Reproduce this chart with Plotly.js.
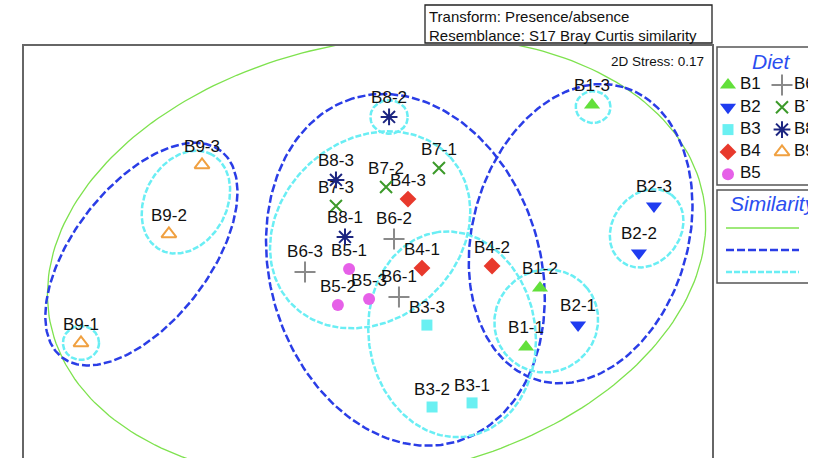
<!DOCTYPE html>
<html>
<head>
<meta charset="utf-8">
<script src="https://cdn.plot.ly/plotly-3.0.1.min.js"></script>
<style>
  html, body { margin: 0; padding: 0; background: #fff; overflow: hidden; }
  #chart { width: 808px; height: 470px; }
</style>
</head>
<body>
<div id="chart"></div>
<script>
// nMDS ordination of diet samples (presence/absence, Bray-Curtis similarity)
const sampleIds = ['B1-1','B1-2','B1-3','B2-1','B2-2','B2-3','B3-1','B3-2','B3-3',
                   'B4-1','B4-2','B4-3','B5-1','B5-2','B5-3','B6-1','B6-2','B6-3',
                   'B7-1','B7-2','B7-3','B8-1','B8-2','B8-3','B9-1','B9-2','B9-3'];
const mdsX = [0.735, 0.800, 1.042, 0.977, 1.260, 1.330, 0.484, 0.298, 0.274,
              0.251, 0.577, 0.186, -0.088, -0.140, 0.005, 0.144, 0.121, -0.293,
              0.330, 0.084, -0.149, -0.107, 0.098, -0.149, -1.335, -0.926, -0.772];
const mdsY = [-0.414, -0.140, 0.712, -0.312, 0.023, 0.242, -0.674, -0.693, -0.312,
              -0.047, -0.037, 0.274, -0.051, -0.219, -0.191, -0.181, 0.088, -0.065,
              0.419, 0.330, 0.242, 0.098, 0.656, 0.363, -0.395, 0.112, 0.433];
const dietGroups = ['B1','B2','B3','B4','B5','B6','B7','B8','B9'];

// cluster contours at three similarity levels
const ringLevel = ['outer','mid','mid','mid','inner','inner','inner','inner','inner','inner','inner','inner'];
const ringCx    = [0.040, -1.054, 0.174, 0.989, -0.847, -1.335, 0.098, 0.010, 0.391, 0.829, 1.296, 1.047];
const ringCy    = [-0.003, 0.018, -0.055, 0.113, 0.260, -0.395, 0.656, 0.131, -0.355, -0.293, 0.138, 0.702];
const ringA     = [1.547, 0.606, 0.834, 0.710, 0.252, 0.084, 0.087, 0.503, 0.480, 0.244, 0.194, 0.081];
const ringB     = [1.010, 0.317, 0.628, 0.501, 0.190, 0.079, 0.078, 0.417, 0.388, 0.237, 0.158, 0.074];
const ringAngle = [10.9, 52.4, 107.1, 73.8, 61.5, 0, 0, 42.5, 98.0, 38.2, 53.7, 0];

const dietStyle = {
  B1: {symbol: 'triangle-up',      color: '#62e03a', size: 14},
  B2: {symbol: 'triangle-down',    color: '#1f3cf0', size: 14},
  B3: {symbol: 'square',           color: '#6af0f2', size: 11},
  B4: {symbol: 'diamond',          color: '#e8392c', size: 13},
  B5: {symbol: 'circle',           color: '#e660e8', size: 12},
  B6: {symbol: 'cross-thin-open',  color: '#8a8a8a', size: 15, lw: 2},
  B7: {symbol: 'x-thin-open',      color: '#3c9a2a', size: 12, lw: 2},
  B8: {symbol: 'asterisk-open',    color: '#1c2580', size: 14, lw: 2},
  B9: {symbol: 'triangle-up-open', color: '#f0a040', size: 13, lw: 2}
};
const ringStyle = {
  outer: {color: '#7ee24e', width: 1.3, dash: 'solid'},
  mid:   {color: '#2a3de6', width: 2.5, dash: '8px,3px'},
  inner: {color: '#6aeef4', width: 2.5, dash: '6px,2px'}
};

// page geometry in pixels; paper spans the whole figure
const W = 808, H = 470, L = 24, R = 712, T = 46, KEY = 717;
const px = x => x / W;
const py = y => (H - y) / H;
const font = 'Liberation Sans, Arial, sans-serif';

const traces = [];
ringCx.forEach((cx, i) => {
  const th = ringAngle[i] * Math.PI / 180, xs = [], ys = [];
  for (let k = 0; k <= 240; k++) {
    const t = 2 * Math.PI * k / 240;
    const u = ringA[i] * Math.cos(t), v = ringB[i] * Math.sin(t);
    xs.push(cx + u * Math.cos(th) - v * Math.sin(th));
    ys.push(ringCy[i] + u * Math.sin(th) + v * Math.cos(th));
  }
  const st = ringStyle[ringLevel[i]];
  traces.push({x: xs, y: ys, mode: 'lines', hoverinfo: 'skip', showlegend: false,
               line: {color: st.color, width: st.width, dash: st.dash}});
});

dietGroups.forEach(g => {
  const idx = sampleIds.map((s, i) => s.startsWith(g + '-') ? i : -1).filter(i => i >= 0);
  const st = dietStyle[g];
  traces.push({
    name: g, showlegend: false,
    x: idx.map(i => mdsX[i]), y: idx.map(i => mdsY[i]), text: idx.map(i => sampleIds[i]),
    mode: 'markers+text', textposition: 'top center',
    textfont: {family: font, size: 17, color: '#111'},
    marker: {symbol: st.symbol, size: st.size, color: st.color, opacity: 1,
             line: {color: st.color, width: st.lw || 0}},
    hoverinfo: 'text'
  });
});

// diet key: two columns of symbols on their own pixel-scaled axes
const keyCol = i => (i < 5 ? 0 : 1), keyRow = i => (i < 5 ? i : i - 5);
const keyX = dietGroups.map((g, i) => 728 + 54 * keyCol(i));
const keyY = dietGroups.map((g, i) => 85 + 22.3 * keyRow(i));
traces.push({
  x: keyX, y: keyY, xaxis: 'x2', yaxis: 'y2', mode: 'markers', hoverinfo: 'skip', showlegend: false,
  marker: {symbol: dietGroups.map(g => dietStyle[g].symbol), size: dietGroups.map(g => dietStyle[g].size),
           color: dietGroups.map(g => dietStyle[g].color), opacity: 1,
           line: {color: dietGroups.map(g => dietStyle[g].color), width: dietGroups.map(g => dietStyle[g].lw || 0)}}
});
traces.push({
  x: keyX.map(x => x + 12), y: keyY, xaxis: 'x2', yaxis: 'y2', mode: 'text', text: dietGroups,
  textposition: 'middle right', hoverinfo: 'skip', showlegend: false,
  textfont: {family: font, size: 17, color: '#111'}
});

const frameBox = (x0, y0, x1, y1, color, w) => ({type: 'rect', xref: 'paper', yref: 'paper',
  x0: px(x0), x1: px(x1), y0: py(y1), y1: py(y0), line: {color: color, width: w}, fillcolor: 'rgba(0,0,0,0)'});
const keyLine = (y, st) => ({type: 'line', xref: 'paper', yref: 'paper', x0: px(726), x1: px(799),
  y0: py(y), y1: py(y), line: {color: st.color, width: st.width, dash: st.dash}});

const layout = {
  width: W, height: H,
  margin: {l: 0, r: 0, t: 0, b: 0, pad: 0, autoexpand: false},
  paper_bgcolor: '#fff', plot_bgcolor: '#fff',
  showlegend: false,
  xaxis: {domain: [L / W, R / W], range: [-1.6, 1.6], showgrid: false, zeroline: false,
          showticklabels: false, ticks: '', showline: true, mirror: true, linecolor: '#666',
          linewidth: 2, fixedrange: true},
  yaxis: {domain: [0, (H - T) / H], range: [(258 - H) / 215, (258 - T) / 215], showgrid: false,
          zeroline: false, showticklabels: false, ticks: '', showline: true, mirror: true,
          linecolor: '#666', linewidth: 2, fixedrange: true},
  xaxis2: {domain: [KEY / W, 1], range: [KEY, W], anchor: 'y2', visible: false, fixedrange: true},
  yaxis2: {domain: [0, 1], range: [H, 0], anchor: 'x2', visible: false, fixedrange: true},
  shapes: [
    frameBox(425, 5, 712, 43, '#222', 1.3),
    frameBox(717, 47, 830, 185, '#555', 1.5),
    frameBox(717, 190, 830, 283, '#555', 1.5),
    keyLine(228, ringStyle.outer),
    keyLine(250, ringStyle.mid),
    keyLine(272, ringStyle.inner)
  ],
  annotations: [
    {text: 'Transform: Presence/absence', x: px(427), y: py(16), xref: 'paper', yref: 'paper',
     xanchor: 'left', yanchor: 'middle', showarrow: false, font: {family: font, size: 15, color: '#111'}},
    {text: 'Resemblance: S17 Bray Curtis similarity', x: px(427), y: py(35), xref: 'paper', yref: 'paper',
     xanchor: 'left', yanchor: 'middle', showarrow: false, font: {family: font, size: 15, color: '#111'}},
    {text: '2D Stress: 0.17', x: px(706), y: py(62), xref: 'paper', yref: 'paper',
     xanchor: 'right', yanchor: 'middle', showarrow: false, font: {family: font, size: 13.5, color: '#111'}},
    {text: '<i>Diet</i>', x: px(771), y: py(62), xref: 'paper', yref: 'paper',
     xanchor: 'center', yanchor: 'middle', showarrow: false, font: {family: font, size: 21, color: '#2b4ef0'}},
    {text: '<i>Similarity</i>', x: px(728), y: py(203), xref: 'paper', yref: 'paper',
     xanchor: 'left', yanchor: 'middle', showarrow: false, font: {family: font, size: 21, color: '#2b4ef0'}}
  ]
};

Plotly.newPlot('chart', traces, layout, {displayModeBar: false, staticPlot: true});
</script>
</body>
</html>
